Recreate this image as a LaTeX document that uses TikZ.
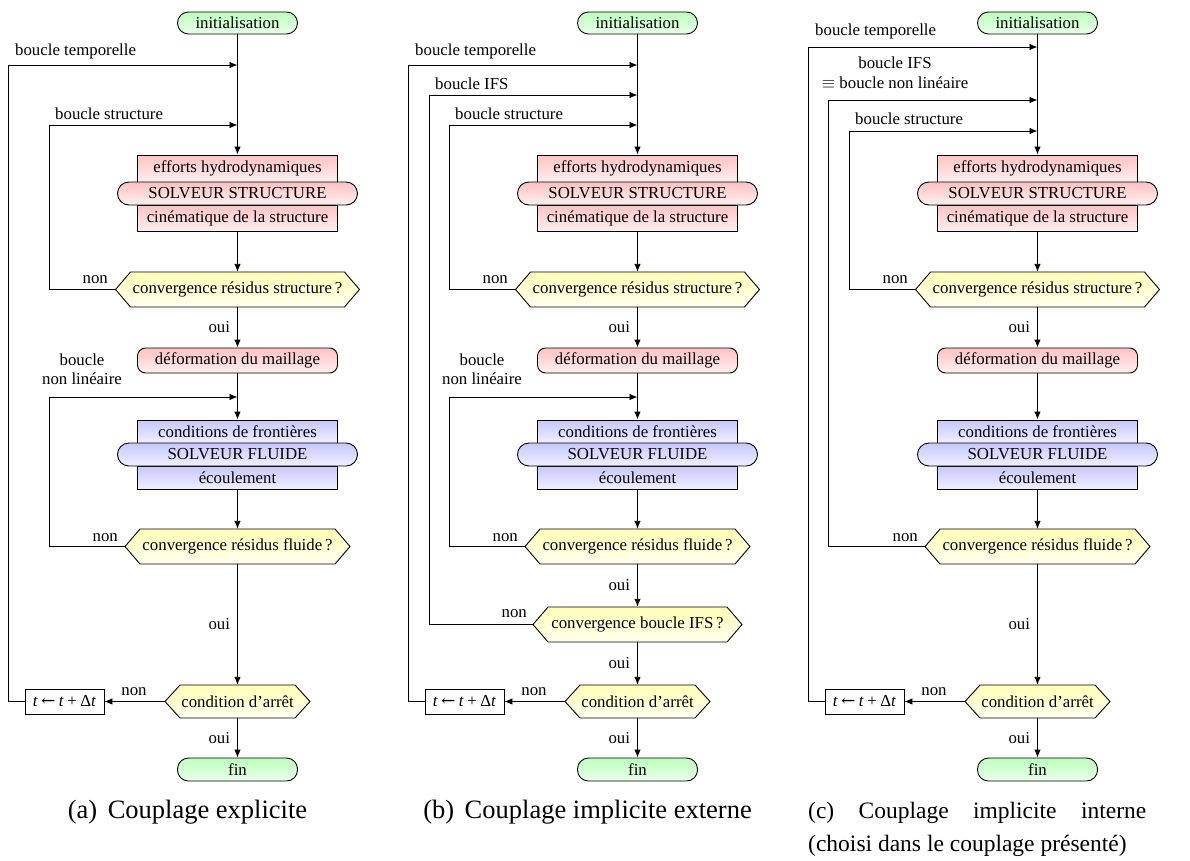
\documentclass[tikz,border=0pt]{standalone}
\usepackage{fontspec}
\setmainfont{Liberation Serif}
\newfontfamily\arrowfont{DejaVu Serif}
\usetikzlibrary{arrows.meta}
\tikzset{
  every node/.style={font=\fontsize{16.8}{19}\selectfont, inner sep=0pt},
  ln/.style={line width=0.9pt},
  arr/.style={line width=0.9pt, -{Latex[length=8pt,width=6.5pt]}},
  startend/.style={draw, line width=0.9pt, rounded corners=11pt, minimum width=120pt, minimum height=22pt, top color=green!26, bottom color=green!8},
  redbox/.style={draw, line width=0.9pt, minimum width=200pt, top color=red!24, bottom color=red!6},
  redsolver/.style={draw, line width=0.9pt, rounded corners=11.5pt, minimum width=240pt, minimum height=23pt, top color=red!24, bottom color=red!6},
  redround/.style={draw, line width=0.9pt, rounded corners=8pt, minimum width=200pt, minimum height=25pt, top color=red!24, bottom color=red!6},
  bluebox/.style={draw, line width=0.9pt, minimum width=200pt, minimum height=23pt, top color=blue!22, bottom color=blue!6},
  bluesolver/.style={draw, line width=0.9pt, rounded corners=11.5pt, minimum width=240pt, minimum height=23pt, top color=blue!22, bottom color=blue!6},
  hexshape/.style={draw, line width=0.9pt, top color=yellow!28, bottom color=yellow!6},
  tstep/.style={draw, line width=0.9pt, fill=white, minimum width=79pt, minimum height=25pt},
  lblw/.style={anchor=base west},
  lble/.style={anchor=base east},
  lblc/.style={anchor=base},
  ouilbl/.style={midway, left=7pt},
  capt/.style={font=\fontsize{26.5}{33}\selectfont},
  captc/.style={font=\fontsize{23.5}{33}\selectfont},
}
\newcommand\tstepText{\textit{t}\kern3.5pt{\arrowfont ←}\kern3.5pt\textit{t}\kern3.5pt+\kern3.5ptΔ\textit{t}}
\newcommand\hexnode[6]{%
  \path[hexshape] ({#2-#4},#3) -- ({#2-#4+15},{#3-#5}) -- ({#2+#4-15},{#3-#5}) -- ({#2+#4},#3) -- ({#2+#4-15},{#3+#5}) -- ({#2-#4+15},{#3+#5}) -- cycle;
  \node[minimum width={(2*#4)*1pt}, minimum height={(2*#5)*1pt}] (#1) at (#2,#3) {#6};}
\newcommand\panel[2]{%
  \pgfmathsetmacro\cx{237.5+#2}%
  \node[startend] (#1init) at (\cx,23) {initialisation};
  \node[redbox, minimum height=27pt] (#1eff) at (\cx,168.5) {efforts hydrodynamiques};
  \node[redbox, minimum height=26pt] (#1cin) at (\cx,218) {cinématique de la structure};
  \node[redsolver] (#1ss) at (\cx,193.5) {SOLVEUR STRUCTURE};
  \hexnode{#1hs}{\cx}{289.5}{122}{17.5}{convergence résidus structure\,?}
  \node[redround] (#1def) at (\cx,360.5) {déformation du maillage};
  \node[bluebox] (#1cf) at (\cx,431.5) {conditions de frontières};
  \node[bluebox] (#1ec) at (\cx,477.5) {écoulement};
  \node[bluesolver] (#1sf) at (\cx,454.5) {SOLVEUR FLUIDE};
  \hexnode{#1hf}{\cx}{546.5}{112.5}{17.5}{convergence résidus fluide\,?}
  \hexnode{#1hc}{\cx}{701.5}{72.5}{16.5}{condition d'arrêt}
  \node[tstep] (#1tb) at ({64.5+#2},701.5) {\tstepText};
  \node[startend, minimum height=23pt] (#1fin) at (\cx,769.5) {fin};
  \draw[arr] (#1init) -- (#1eff);
  \draw[arr] (#1cin) -- (#1hs);
  \draw[arr] (#1hs) -- node[ouilbl] (#1oui1) {oui} (#1def);
  \draw[arr] (#1def) -- (#1cf);
  \draw[arr] (#1ec) -- (#1hf);
  \draw[arr] (#1hc) -- (#1tb);
  \node[lblc] (#1nonc) at ({134+#2},695) {non};
  \draw[arr] (#1hc) -- node[ouilbl] (#1oui4) {oui} (#1fin);
}
\begin{document}
\begin{tikzpicture}[x=1pt,y=-1pt]
\useasboundingbox (0,0) rectangle (1190,860);

% ---------------- (a) ----------------
\panel{a}{0}
\draw[arr] (ahf) -- node[ouilbl] (aoui2) {oui} (ahc);
\coordinate (aT) at (237.5,65);  \coordinate (aTc) at (8,65);
\coordinate (aS) at (237.5,125); \coordinate (aSc) at (49,125);
\coordinate (aN) at (237.5,397); \coordinate (aNc) at (49,397);
\draw[arr] (atb.west) -| (aTc) -- (aT);
\draw[arr] (ahs.west) -| (aSc) -- (aS);
\draw[arr] (ahf.west) -| (aNc) -- (aN);
\node[lblw] (aLT) at (15,55) {boucle temporelle};
\node[lblw] (aLS) at (55,119) {boucle structure};
\node[lblc] (aLN1) at (82,365) {boucle};
\node[lblc] (aLN2) at (82,384) {non linéaire};
\node[lble] (aNS) at (108,283) {non};
\node[lble] (aNF) at (118,541.5) {non};
\node[capt, lblc] (capa) at (187.5,818) {(a)\hspace{0.4em}Couplage explicite};

% ---------------- (b) ----------------
\panel{b}{400}
\hexnode{bhi}{637.5}{624.5}{104.5}{17.5}{convergence boucle IFS\,?}
\draw[arr] (bhf) -- node[ouilbl] (boui2) {oui} (bhi);
\draw[arr] (bhi) -- node[ouilbl] (boui3) {oui} (bhc);
\coordinate (bT) at (637.5,65);  \coordinate (bTc) at (408,65);
\coordinate (bI) at (637.5,95);  \coordinate (bIc) at (429,95);
\coordinate (bS) at (637.5,125); \coordinate (bSc) at (449,125);
\coordinate (bN) at (637.5,397); \coordinate (bNc) at (449,397);
\draw[arr] (btb.west) -| (bTc) -- (bT);
\draw[arr] (bhi.west) -| (bIc) -- (bI);
\draw[arr] (bhs.west) -| (bSc) -- (bS);
\draw[arr] (bhf.west) -| (bNc) -- (bN);
\node[lblw] (bLT) at (415,55) {boucle temporelle};
\node[lblw] (bLI) at (435,89) {boucle IFS};
\node[lblw] (bLS) at (455,119) {boucle structure};
\node[lblc] (bLN1) at (482,365) {boucle};
\node[lblc] (bLN2) at (482,384) {non linéaire};
\node[lble] (bNS) at (508,283) {non};
\node[lble] (bNF) at (518,541.5) {non};
\node[lble] (bNI) at (527,617) {non};
\node[capt, lblc] (capb) at (587.5,818) {(b)\hspace{0.4em}Couplage implicite externe};

% ---------------- (c) ----------------
\panel{c}{800}
\draw[arr] (chf) -- node[ouilbl] (coui2) {oui} (chc);
\coordinate (cT) at (1037.5,47);  \coordinate (cTc) at (808,47);
\coordinate (cI) at (1037.5,100); \coordinate (cIc) at (828,100);
\coordinate (cS) at (1037.5,131); \coordinate (cSc) at (849,131);
\draw[arr] (ctb.west) -| (cTc) -- (cT);
\draw[arr] (chf.west) -| (cIc) -- (cI);
\draw[arr] (chs.west) -| (cSc) -- (cS);
\node[lblw] (cLT) at (815,35) {boucle temporelle};
\node[lblc] (cLI1) at (895,68) {boucle IFS};
\node[lblc] (cLI2) at (895,88) {$\equiv$ boucle non linéaire};
\node[lblw] (cLS) at (855,124) {boucle structure};
\node[lble] (cNS) at (908,283) {non};
\node[lble] (cNF) at (918,541.5) {non};
\node[captc, lblw] (capc1) at (808,818) {\makebox[338pt][s]{(c) Couplage implicite interne}};
\node[captc, lblw] (capc2) at (808,851) {(choisi dans le couplage présenté)};
\end{tikzpicture}
\end{document}
